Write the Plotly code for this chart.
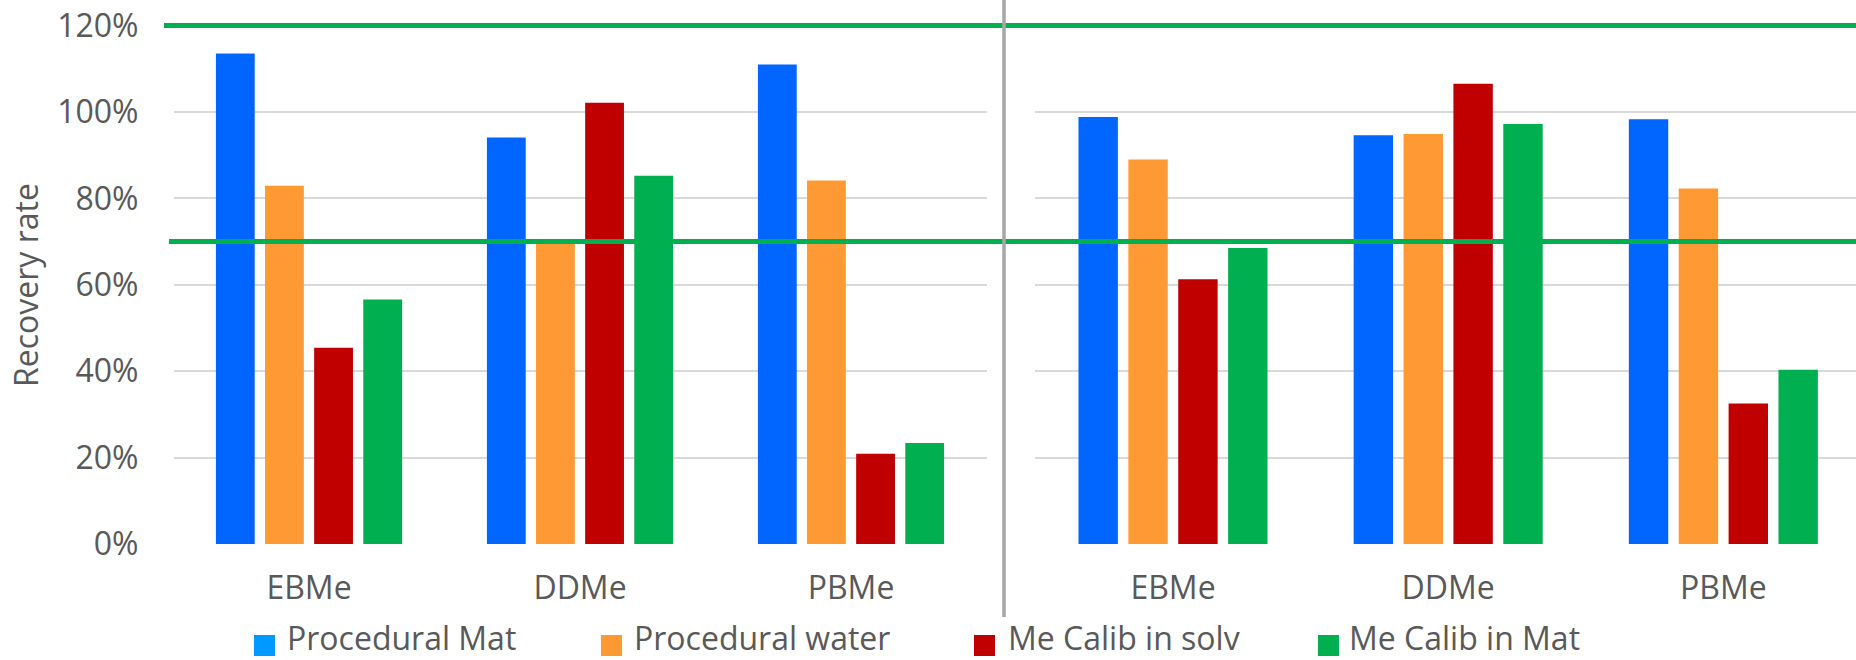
import plotly.graph_objects as go

# Compound categories shown in both panels
categories = ["EBMe", "DDMe", "PBMe"]

# Series names and colours
series_names = ["Procedural Mat", "Procedural water", "Me Calib in solv", "Me Calib in Mat"]
bar_colors = ["#0066FF", "#FF9933", "#C00000", "#00B050"]
legend_colors = ["#0099FF", "#FF9933", "#C00000", "#00B050"]

# Recovery rates (%) – left panel
left_procedural_mat = [113.5, 94.1, 111.0]
left_procedural_water = [82.9, 69.5, 84.1]
left_calib_solv = [45.4, 102.1, 20.9]
left_calib_mat = [56.6, 85.2, 23.4]

# Recovery rates (%) – right panel
right_procedural_mat = [98.8, 94.6, 98.3]
right_procedural_water = [89.0, 94.9, 82.3]
right_calib_solv = [61.3, 106.5, 32.5]
right_calib_mat = [68.5, 97.2, 40.3]

# Acceptance limits (%)
upper_limit = 120
lower_limit = 70

y_ticks = [0, 20, 40, 60, 80, 100, 120]
y_tick_labels = ["0%", "20%", "40%", "60%", "80%", "100%", "120%"]

left_series = [left_procedural_mat, left_procedural_water, left_calib_solv, left_calib_mat]
right_series = [right_procedural_mat, right_procedural_water, right_calib_solv, right_calib_mat]

W, H = 1856, 660
FONT = "Open Sans"
TXT = "#595959"
FS = 32

fig = go.Figure()
for name, color, vals in zip(series_names, bar_colors, left_series):
    fig.add_trace(go.Bar(x=categories, y=vals, name=name, marker_color=color,
                         marker_line_width=0, xaxis="x", yaxis="y", showlegend=False))
for name, color, vals in zip(series_names, bar_colors, right_series):
    fig.add_trace(go.Bar(x=categories, y=vals, name=name, marker_color=color,
                         marker_line_width=0, xaxis="x2", yaxis="y2", showlegend=False))

plot_bottom = 544  # pixel row of the 0% line
def py(p):
    return (plot_bottom - p) / plot_bottom
def px(p):
    return p / W

shapes = [
    # limit lines across both panels
    dict(type="line", xref="paper", yref="y", x0=px(164), x1=1, y0=upper_limit, y1=upper_limit,
         line=dict(color="#00B050", width=5), layer="above"),
    dict(type="line", xref="paper", yref="y", x0=px(169), x1=1, y0=lower_limit, y1=lower_limit,
         line=dict(color="#00B050", width=5), layer="above"),
    # panel separator
    dict(type="line", xref="paper", yref="paper", x0=px(1004), x1=px(1004), y0=1.0, y1=py(617),
         line=dict(color="#A6A6A6", width=3.5), layer="above"),
]

annotations = [
    dict(text="Recovery rate", xref="paper", yref="paper", x=px(25), y=py(285),
         xanchor="center", yanchor="middle", textangle=-90, showarrow=False,
         font=dict(family=FONT, size=FS, color=TXT)),
]

# Legend row
legend_marker_x = [254, 601, 974, 1318]
legend_text_x = [285, 632, 1006, 1347]
for name, color, mx, tx in zip(series_names, legend_colors, legend_marker_x, legend_text_x):
    shapes.append(dict(type="rect", xref="paper", yref="paper", x0=px(mx), x1=px(mx + 21),
                       y0=py(635), y1=py(656), fillcolor=color, line=dict(width=0)))
    annotations.append(dict(text=name, xref="paper", yref="paper", x=px(tx), y=py(637),
                            xanchor="left", yanchor="middle", showarrow=False,
                            font=dict(family=FONT, size=FS, color=TXT)))

axis_common_y = dict(range=[0, 125.9], tickmode="array", tickvals=y_ticks, ticktext=y_tick_labels,
                     showgrid=True, gridcolor="#D9D9D9", gridwidth=2, zeroline=False, showline=False,
                     tickfont=dict(family=FONT, size=FS, color=TXT))
axis_common_x = dict(showgrid=False, zeroline=False, showline=False, ticks="",
                     tickfont=dict(family=FONT, size=FS, color=TXT), ticklabelstandoff=22)

fig.update_layout(
    width=W, height=H,
    margin=dict(l=0, r=0, t=0, b=H - plot_bottom),
    paper_bgcolor="white", plot_bgcolor="white",
    barmode="group", bargap=0.275, bargroupgap=0.21,
    xaxis=dict(domain=[px(173.5), px(986.5)], range=[-0.5, 2.5], anchor="y", **axis_common_x),
    xaxis2=dict(domain=[px(1035.4), 1.0], range=[-0.5, 2.482], anchor="y2", **axis_common_x),
    yaxis=dict(anchor="x", ticklabelstandoff=34, **axis_common_y),
    yaxis2=dict(anchor="x2", matches="y", showticklabels=False, **axis_common_y),
    shapes=shapes,
    annotations=annotations,
    showlegend=False,
)

fig.write_html("out.html")
